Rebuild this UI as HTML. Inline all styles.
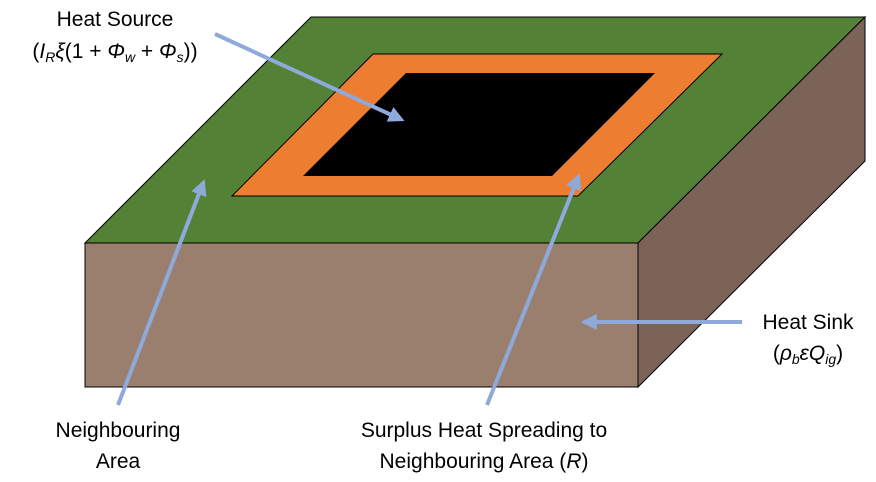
<!DOCTYPE html>
<html><head><style>body{margin:0;background:#fff}svg{display:block}text{font-family:"Liberation Sans",sans-serif;font-size:21px;fill:#000}</style></head>
<body>
<svg width="876" height="482" viewBox="0 0 876 482">
<defs><marker id="a" markerWidth="4" markerHeight="4" refX="2.2" refY="2" orient="auto" markerUnits="strokeWidth"><path d="M0,0 L4,2 L0,4 Z" fill="#8eaadb"/></marker></defs>
<polygon points="311,17 865,17 638,243 85,243" fill="#538135" stroke="#000" stroke-width="1"/>
<polygon points="865,17 865,161 638,387 638,243" fill="#7b6358" stroke="#000" stroke-width="1"/>
<rect x="85" y="243" width="553" height="144" fill="#9a7f6f" stroke="#000" stroke-width="1"/>
<polygon points="373,54 722,54 578,196 232,196" fill="#ed7d31" stroke="#000" stroke-width="1"/>
<polygon points="406,73 655,73 552,176 303,176" fill="#000"/>
<g stroke="#8eaadb" stroke-width="4" fill="none">
<line x1="215" y1="34" x2="398" y2="118" marker-end="url(#a)"/>
<line x1="118" y1="405" x2="202" y2="186" marker-end="url(#a)"/>
<line x1="487" y1="405" x2="577" y2="180" marker-end="url(#a)"/>
<line x1="742" y1="322" x2="588" y2="322" marker-end="url(#a)"/>
</g>
<text x="115" y="26" text-anchor="middle">Heat Source</text>
<text x="115" y="58" text-anchor="middle">(<tspan font-style="italic">I</tspan><tspan font-size="14" dy="4" font-style="italic">R</tspan><tspan dy="-4" font-style="italic">ξ</tspan>(1 + <tspan font-style="italic">Φ</tspan><tspan font-size="14" dy="4" font-style="italic">w</tspan><tspan dy="-4"> + </tspan><tspan font-style="italic">Φ</tspan><tspan font-size="14" dy="4" font-style="italic">s</tspan><tspan dy="-4">))</tspan></text>
<text x="808" y="329" text-anchor="middle">Heat Sink</text>
<text x="808" y="360" text-anchor="middle">(<tspan font-style="italic">ρ</tspan><tspan font-size="14" dy="4" font-style="italic">b</tspan><tspan dy="-4" font-style="italic">εQ</tspan><tspan font-size="14" dy="4" font-style="italic">ig</tspan><tspan dy="-4">)</tspan></text>
<text x="118" y="437" text-anchor="middle">Neighbouring</text>
<text x="118" y="468" text-anchor="middle">Area</text>
<text x="484" y="437" text-anchor="middle">Surplus Heat Spreading to</text>
<text x="484" y="468" text-anchor="middle">Neighbouring Area (<tspan font-style="italic">R</tspan>)</text>
</svg>
</body></html>
